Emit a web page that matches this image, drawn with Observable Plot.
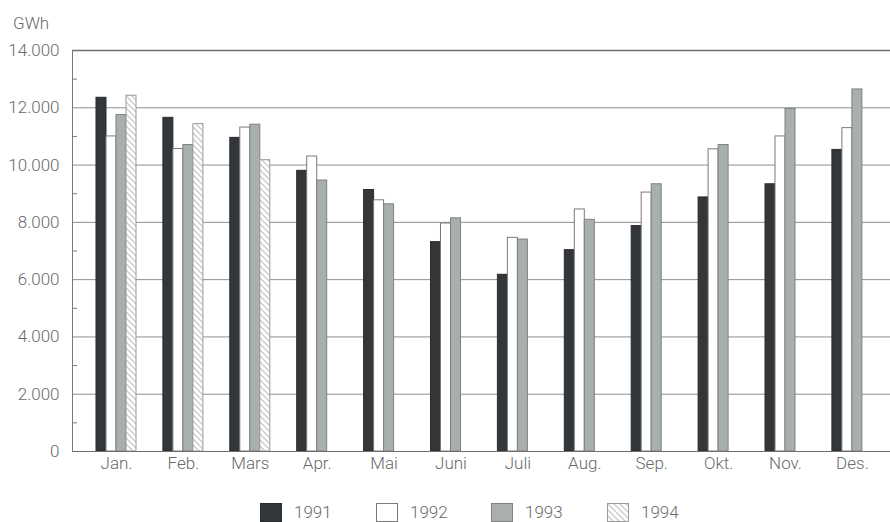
<!DOCTYPE html>
<html>
<head>
<meta charset="utf-8">
<script src="https://cdn.jsdelivr.net/npm/d3@7"></script>
<script src="https://cdn.jsdelivr.net/npm/@observablehq/plot@0.6"></script>
<style>
  html, body { margin: 0; padding: 0; background: #fff; }
  #wrap { position: relative; width: 890px; height: 522px; overflow: hidden; font-family: Roboto, "Liberation Sans", sans-serif; font-weight: 300; color: #6a6a6a; }
  #unit { position: absolute; left: 13px; top: 13px; font-size: 17px; }
  #legend { position: absolute; left: 0; top: 502px; width: 890px; height: 20px; }
  .item { position: absolute; top: 0; display: flex; align-items: center; font-size: 17px; }
</style>
</head>
<body>
<div id="wrap">
  <div id="chart"></div>
  <div id="unit">GWh</div>
  <div id="legend"></div>
</div>
<script>
const months = ["Jan.", "Feb.", "Mars", "Apr.", "Mai", "Juni", "Juli", "Aug.", "Sep.", "Okt.", "Nov.", "Des."];
const years = ["1991", "1992", "1993", "1994"];
const v1991 = [12350, 11650, 10950, 9800, 9130, 7310, 6170, 7030, 7870, 8870, 9330, 10530];
const v1992 = [11000, 10560, 11310, 10300, 8770, 7960, 7460, 8450, 9040, 10550, 11000, 11290];
const v1993 = [11750, 10700, 11410, 9460, 8630, 8140, 7400, 8090, 9330, 10700, 11960, 12640];
const v1994 = [12420, 11430, 10170, null, null, null, null, null, null, null, null, null];
const yTicks = [0, 2000, 4000, 6000, 8000, 10000, 12000, 14000];
const yMinor = [1000, 3000, 5000, 7000, 9000, 11000, 13000];

const series = [v1991, v1992, v1993, v1994];
const styles = [
  {fill: "#33373a", stroke: "#2a2d30"},
  {fill: "#ffffff", stroke: "#7a7a7a"},
  {fill: "#a9aeae", stroke: "#7d8282"},
  {fill: "url(#hatch94)", stroke: "#9a9a9a"}
];
const rows = years.map((yr, k) => months.map((m, i) => ({month: m, year: yr, value: series[k][i]})).filter(d => d.value != null));

const loc = d3.formatLocale({decimal: ",", thousands: ".", grouping: [3], currency: ["", ""]});
const fmt = loc.format(",d");

const font = "Roboto, 'Liberation Sans', sans-serif";
const bw = 10;

const chart = Plot.plot({
  width: 890,
  height: 492,
  marginLeft: 72,
  marginRight: 0,
  marginTop: 50,
  marginBottom: 41,
  style: {fontFamily: font, fontSize: "17px", fontWeight: 300, color: "#6a6a6a", background: "transparent"},
  x: {domain: months, paddingInner: 0.402, paddingOuter: 0.3145, align: 0.57, round: false, axis: null},
  y: {domain: [0, 14000], axis: null},
  marks: [
    Plot.ruleY(yTicks.filter(t => t > 0 && t < 14000), {stroke: "#8e8e8e", strokeWidth: 1}),
    Plot.ruleY([14000], {stroke: "#6e6e6e", strokeWidth: 1.3}),
    ...rows.map((data, k) => Plot.barY(data, {
      x: "month", y: "value",
      insetLeft: k * bw, insetRight: (3 - k) * bw,
      fill: styles[k].fill, stroke: styles[k].stroke, strokeWidth: 1
    })),
    Plot.ruleY([0], {stroke: "#6e6e6e", strokeWidth: 1.2}),
    Plot.frame({anchor: "left", stroke: "#7a7a7a", strokeWidth: 1}),
    Plot.axisY({ticks: yTicks, tickSize: 0, tickPadding: 13, tickFormat: fmt, label: null, fill: "#6a6a6a", fontWeight: 300}),
    Plot.axisY({ticks: yMinor, tickSize: -5, tickFormat: () => "", label: null, stroke: "#7a7a7a"}),
    Plot.axisX({tickSize: 0, tickPadding: 5, label: null, fill: "#6a6a6a", fontWeight: 300})
  ]
});

// hatch pattern for 1994
const ns = "http://www.w3.org/2000/svg";
function addPattern(svg, id) {
  let defs = svg.querySelector("defs");
  if (!defs) { defs = document.createElementNS(ns, "defs"); svg.insertBefore(defs, svg.firstChild); }
  const p = document.createElementNS(ns, "pattern");
  p.setAttribute("id", id);
  p.setAttribute("patternUnits", "userSpaceOnUse");
  p.setAttribute("width", "6");
  p.setAttribute("height", "6");
  p.innerHTML = '<rect width="6" height="6" fill="#ffffff"/><path d="M0,0L6,6M-1,5L1,7M5,-1L7,1" stroke="#c9c9c9" stroke-width="1.3"/>';
  defs.appendChild(p);
}
addPattern(chart, "hatch94");
document.getElementById("chart").appendChild(chart);

// legend
const legend = document.getElementById("legend");
const lx = [260, 376, 491, 607];
years.forEach((yr, k) => {
  const it = document.createElement("div");
  it.className = "item";
  it.style.left = lx[k] + "px";
  const sw = document.createElementNS(ns, "svg");
  sw.setAttribute("width", "22");
  sw.setAttribute("height", "19");
  sw.style.marginRight = "12px";
  if (k === 3) addPattern(sw, "hatchLeg");
  const r = document.createElementNS(ns, "rect");
  r.setAttribute("x", "0.5"); r.setAttribute("y", "0.5");
  r.setAttribute("width", "21"); r.setAttribute("height", "18");
  r.setAttribute("fill", k === 3 ? "url(#hatchLeg)" : styles[k].fill);
  r.setAttribute("stroke", styles[k].stroke);
  sw.appendChild(r);
  it.appendChild(sw);
  const t = document.createElement("span");
  t.textContent = yr;
  it.appendChild(t);
  legend.appendChild(it);
});
</script>
</body>
</html>
